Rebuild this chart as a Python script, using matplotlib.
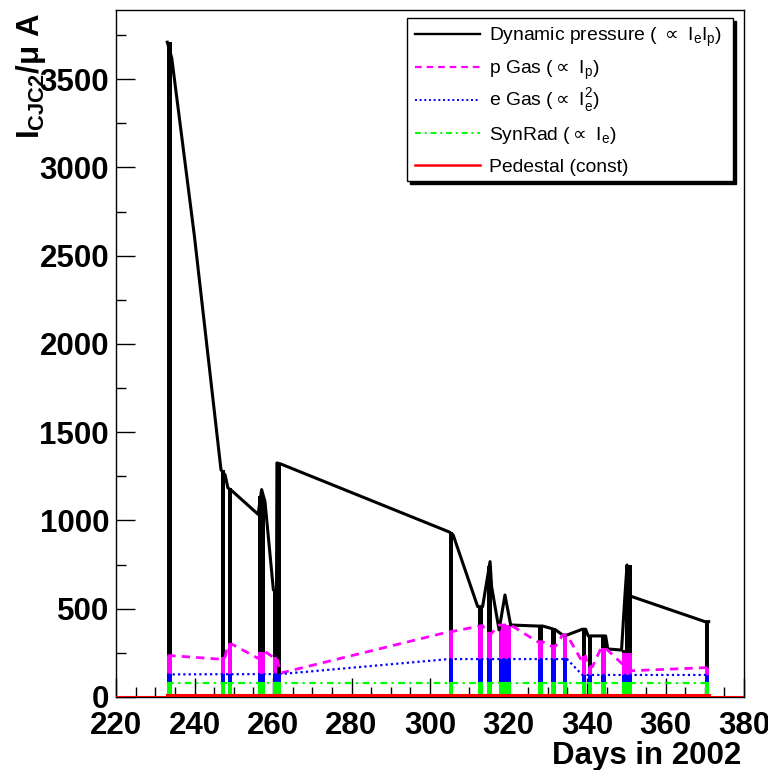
#!/usr/bin/env python3
"""
Ток CJC2 в 2002 году: разложение на компоненты фона
"""

import matplotlib
matplotlib.use('Agg')
import matplotlib.pyplot as plt
from matplotlib.lines import Line2D
from matplotlib.patches import Rectangle

# Периоды заполнений (дни 2002 года): начало и конец
fill_start = [233.07, 246.75, 248.5, 256.2, 260.1, 261.0, 304.9, 312.15, 314.45,
              317.6, 327.4, 330.8, 333.8, 338.8, 340.3, 343.55, 348.8, 349.7, 370.05]
fill_end = [234.2, 247.8, 249.55, 257.96, 260.9, 262.0, 305.9, 313.4, 315.7,
            320.55, 328.7, 332.0, 334.9, 339.65, 341.4, 344.75, 349.7, 351.4, 371.0]

# Верхние значения накопленных компонент в каждом заполнении (мкА)
synrad_top = [84] * 19
egas_top = [128, 128, 128, 128, 128, 128, 215, 215, 215,
            215, 215, 215, 221, 125, 125, 125, 125, 125, 125]
pgas_top = [234, 226, 299, 257, 225, 130, 370, 405, 361,
            408, 313, 289, 351, 232, 172, 276, 248, 248, 166]
total_top = [3710, 1287, 1185, 1140, 606, 1326, 935, 512, 740,
             408, 402, 389, 351, 384, 346, 346, 266, 748, 427]

# Ломаная полного тока (динамическое давление)
dyn_x = [233.07, 234.2, 240.0, 246.75, 247.8, 248.5, 249.55, 256.2, 257.1, 257.96,
         260.1, 260.9, 261.0, 262.0, 304.9, 305.9, 312.15, 313.4, 315.3, 315.7,
         317.6, 319.1, 320.55, 327.4, 328.7, 330.8, 332.0, 333.8, 334.9, 338.8,
         339.65, 340.3, 344.75, 345.3, 348.8, 349.7, 350.2, 351.0, 370.05, 371.0]
dyn_y = [3710, 3620, 2607, 1287, 1258, 1185, 1168, 1035, 1175, 1107,
         606, 606, 1326, 1320, 935, 918, 512, 512, 767, 625,
         380, 578, 408, 402, 402, 389, 380, 351, 351, 384,
         384, 346, 346, 272, 266, 588, 748, 572, 427, 427]

# Ломаная протонного газа
pgas_x = [233.07, 234.2, 246.75, 247.8, 248.5, 249.55, 256.2, 257.96, 260.1, 260.9,
          262.0, 304.9, 305.9, 312.15, 313.4, 314.45, 315.7, 317.6, 320.55, 327.4,
          328.7, 330.8, 332.0, 333.8, 334.9, 338.8, 339.65, 340.3, 341.4, 343.55,
          344.75, 348.8, 351.4, 370.05, 371.0]
pgas_y = [234, 234, 214, 226, 299, 299, 219, 257, 225, 225,
          136, 370, 372, 400, 405, 361, 361, 408, 408, 313,
          313, 289, 289, 351, 351, 200, 232, 172, 172, 276,
          276, 191, 149, 166, 166]

# Ломаная электронного газа
egas_x = [233.07, 262.0, 304.9, 334.9, 338.8, 371.0]
egas_y = [128, 130, 215, 215, 125, 125]

# Синхротронное излучение и пьедестал
synrad_x = [233.07, 371.0]
synrad_y = [82, 82]
ped_x = [233.07, 371.0]
ped_y = [13, 13]

legend_labels = [
    'Dynamic pressure ( $\\propto$ I$_\\mathregular{e}$I$_\\mathregular{p}$)',
    'p Gas ($\\propto$ I$_\\mathregular{p}$)',
    'e Gas ($\\propto$ I$_\\mathregular{e}^\\mathregular{2}$)',
    'SynRad ($\\propto$ I$_\\mathregular{e}$)',
    'Pedestal (const)',
]

W, H = 768, 770
BIG_FONT = ['Liberation Sans', 'DejaVu Sans']
BIG_SIZE = 22.5
LEG_FONT = ['Liberation Sans', 'DejaVu Sans']

GREEN = '#00ff00'
BLUE = '#0000ff'
MAGENTA = '#ff00ff'
RED = '#ff0000'


def fx(px):
    return px / W


def fy(py):
    return 1 - py / H


def plot_cjc_current(output_file):
    fig = plt.figure(figsize=(W / 100, H / 100), dpi=100)
    ax = fig.add_axes([fx(116), fy(697), (744 - 116) / W, (697 - 9.5) / H])

    # Столбики заполнений: накопленные компоненты
    widths = [e - s for s, e in zip(fill_start, fill_end)]
    blue_h = [b - g for b, g in zip(egas_top, synrad_top)]
    mag_h = [p - b for p, b in zip(pgas_top, egas_top)]
    blk_h = [t - p for t, p in zip(total_top, pgas_top)]
    kw = dict(align='edge', linewidth=0, zorder=2)
    ax.bar(fill_start, synrad_top, widths, bottom=0, color=GREEN, **kw)
    ax.bar(fill_start, blue_h, widths, bottom=synrad_top, color=BLUE, **kw)
    ax.bar(fill_start, mag_h, widths, bottom=egas_top, color=MAGENTA, **kw)
    ax.bar(fill_start, blk_h, widths, bottom=pgas_top, color='black', **kw)

    # Линии компонент
    ax.axhline(0, color=RED, lw=1.5, zorder=3)
    ax.plot(dyn_x, dyn_y, color='black', lw=2.2, zorder=4)
    ax.plot(pgas_x, pgas_y, color=MAGENTA, lw=2.0, dashes=(3.0, 2.2), zorder=4)
    ax.plot(egas_x, egas_y, color=BLUE, lw=1.6, dashes=(1.0, 1.4), zorder=4)
    ax.plot(synrad_x, synrad_y, color=GREEN, lw=1.6, dashes=(3.0, 2.0, 1.0, 2.0), zorder=4)
    ax.plot(ped_x, ped_y, color=RED, lw=2.2, zorder=4)

    ax.set_xlim(220, 380)
    ax.set_ylim(0, 3895)
    ax.set_xticks(range(220, 381, 20))
    ax.set_xticks(range(220, 381, 5), minor=True)
    ax.set_yticks(range(0, 3501, 500))
    ax.set_yticks(range(0, 3876, 250), minor=True)
    ax.tick_params(which='both', direction='in', top=False, right=False, width=1)
    ax.tick_params(which='major', length=14)
    ax.tick_params(which='minor', length=7)
    ax.tick_params(axis='y', pad=5)
    ax.tick_params(axis='x', pad=10)
    for lab in ax.get_xticklabels() + ax.get_yticklabels():
        lab.set_fontfamily(BIG_FONT)
        lab.set_fontweight('bold')
        lab.set_fontsize(BIG_SIZE)
    for sp in ax.spines.values():
        sp.set_linewidth(1.0)

    # Подписи осей
    fig.text(fx(741), fy(756), 'Days in 2002', ha='right', va='center',
             family=BIG_FONT, fontweight='bold', fontsize=BIG_SIZE)
    fig.text(fx(14), fy(13), 'I$_\\mathregular{CJC2}$/μ A', rotation=90,
             ha='left', va='top', family=BIG_FONT, fontweight='bold', fontsize=BIG_SIZE)

    # Легенда с тенью
    fig.add_artist(Rectangle((fx(410), fy(184)), (733 - 407) / W, (181 - 18) / H,
                             transform=fig.transFigure, facecolor='black',
                             edgecolor='black', zorder=10))
    fig.add_artist(Rectangle((fx(407), fy(181)), (733 - 407) / W, (181 - 18) / H,
                             transform=fig.transFigure, facecolor='white',
                             edgecolor='black', lw=1.0, zorder=11))
    styles = [
        dict(color='black', lw=1.7),
        dict(color=MAGENTA, lw=1.6, dashes=(3.0, 2.2)),
        dict(color=BLUE, lw=1.4, dashes=(1.0, 1.4)),
        dict(color=GREEN, lw=1.4, dashes=(3.0, 2.0, 1.0, 2.0)),
        dict(color=RED, lw=1.8),
    ]
    rows = [34, 67, 100, 133, 165]
    for row, label, st in zip(rows, legend_labels, styles):
        fig.add_artist(Line2D([fx(415), fx(480)], [fy(row), fy(row)],
                              transform=fig.transFigure, zorder=12, **st))
        fig.text(fx(489), fy(row + 6.7), label, ha='left', va='baseline',
                 family=LEG_FONT, fontsize=13.9, zorder=12)

    plt.savefig(output_file, dpi=100)
    plt.close()


def main():
    plot_cjc_current('out.png')


if __name__ == '__main__':
    main()
